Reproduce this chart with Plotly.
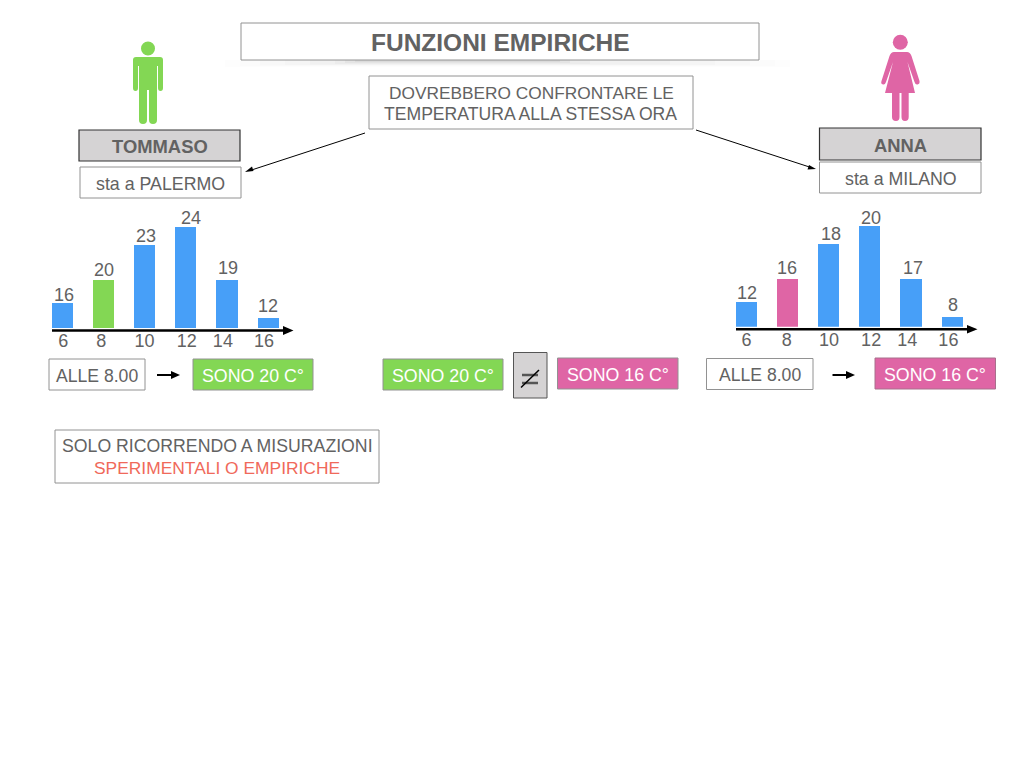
import plotly.graph_objects as go

hours = [6, 8, 10, 12, 14, 16]
hour_labels = ["6", "8", "10", "12", "14", "16"]
left_temps = [16, 20, 23, 24, 19, 12]
right_temps = [12, 16, 18, 20, 17, 8]
# drawn bar heights (not proportional to the printed labels)
left_heights = [25, 48.5, 83, 101.5, 48.5, 10]
right_heights = [25, 48.5, 83, 101, 48, 10]

BLUE = "#479FF8"
GREEN = "#83D754"
PINK = "#DF65A5"
TXT = "#626262"
GREY = "#D5D3D4"
EDGE = "#929292"
FONT = "Liberation Sans"

fig = go.Figure()

left_colors = [BLUE, GREEN, BLUE, BLUE, BLUE, BLUE]
right_colors = [BLUE, PINK, BLUE, BLUE, BLUE, BLUE]
fig.add_bar(x=hours, y=left_heights, width=1.02, marker=dict(color=left_colors, line=dict(width=0)),
            xaxis="x", yaxis="y", showlegend=False, hoverinfo="skip")
fig.add_bar(x=hours, y=right_heights, width=1.02, marker=dict(color=right_colors, line=dict(width=0)),
            xaxis="x2", yaxis="y2", showlegend=False, hoverinfo="skip")
# invisible trace that activates the overlay axes in page units
fig.add_scatter(x=[0, 1024], y=[0, 768], mode="markers", marker=dict(opacity=0, size=1),
                xaxis="x3", yaxis="y3", showlegend=False, hoverinfo="skip")


def tick_axis(domain, nudges):
    return dict(domain=domain, range=[4, 18], tickvals=[h + n for h, n in zip(hours, nudges)],
                ticktext=hour_labels, showgrid=False, zeroline=False, showline=False,
                ticks="", ticklabelstandoff=0,
                tickfont=dict(family=FONT, size=18, color=TXT))


def val_axis(bottom):
    return dict(domain=[1 - bottom / 768, 1 - (bottom - 120) / 768], range=[0, 120], visible=False)


annotations, shapes = [], []


def box(x0, y0, x1, y1, fill="#FFFFFF", line=EDGE, width=1):
    shapes.append(dict(type="rect", xref="x3", yref="y3", x0=x0, y0=y0, x1=x1, y1=y1,
                       fillcolor=fill, line=dict(color=line, width=width), layer="below"))


def label(x, y, text, color=TXT, size=17.8, bold=False):
    annotations.append(dict(xref="x3", yref="y3", x=x, y=y, text=f"<b>{text}</b>" if bold else text,
                            showarrow=False, xanchor="center", yanchor="middle",
                            font=dict(family=FONT, size=size, color=color)))


def path(d, color):
    shapes.append(dict(type="path", xref="x3", yref="y3", path=d, fillcolor=color,
                       line=dict(width=0), layer="below"))


def line(x0, y0, x1, y1, color="#000000", width=1.0):
    shapes.append(dict(type="line", xref="x3", yref="y3", x0=x0, y0=y0, x1=x1, y1=y1,
                       line=dict(color=color, width=width), layer="below"))


def circle(cx, cy, r, color):
    shapes.append(dict(type="circle", xref="x3", yref="y3", x0=cx - r, x1=cx + r, y0=cy - r, y1=cy + r,
                       fillcolor=color, line=dict(width=0), layer="below"))


# title shadow: soft, darker under the middle of the title box
for a, b, bottom, op in [(225, 790, 67, 0.006), (240, 775, 66, 0.008), (260, 750, 65.5, 0.01),
                         (285, 715, 65, 0.012), (310, 670, 64.5, 0.015), (335, 590, 64, 0.02),
                         (345, 570, 63, 0.03), (355, 560, 62, 0.04)]:
    shapes.append(dict(type="rect", xref="x3", yref="y3", x0=a, x1=b, y0=60, y1=bottom,
                       fillcolor=f"rgba(0,0,0,{op})", line=dict(width=0), layer="below"))

box(241, 23, 759, 60)
label(500.5, 42, "FUNZIONI EMPIRICHE", size=24.5, bold=True)
box(369, 76, 693, 129)
label(531, 92.5, "DOVREBBERO CONFRONTARE LE", size=17.3)
label(530.5, 114, "TEMPERATURA ALLA STESSA ORA", size=17.6)

# man
circle(148, 48.5, 7, GREEN)
path("M136 57 L160 57 Q163 57 163 60 L163 88 Q163 91 160.5 91 Q158 91 158 88 L158 66 L157 66 "
     "L157 120 Q157 124 153 124 Q149 124 149 120 L149 90 L147 90 L147 120 Q147 124 143 124 "
     "Q139 124 139 120 L139 66 L138 66 L138 88 Q138 91 135.5 91 Q133 91 133 88 L133 60 Q133 57 136 57 Z", GREEN)
# woman
circle(900.3, 42.3, 7.5, PINK)
path("M894 52 L907 52 Q910 52 911.5 56 L919.5 81 Q920 84 917.5 84.5 Q915.5 85 914.5 82 L907.5 62 "
     "L915 93 L908.7 93 L908.7 117 Q908.7 121 905 121 Q901.5 121 901.5 117 L901.5 93 L899.5 93 "
     "L899.5 117 Q899.5 121 896 121 Q892 121 892 117 L892 93 L885 93 L893 62 L886 82 Q885 85 883 84.5 "
     "Q880.5 84 881.5 81 L889.5 56 Q891 52 894 52 Z", PINK)

box(79, 130, 240, 161, fill=GREY, line="#333333", width=1.2)
label(159.5, 146, "TOMMASO", size=18.4, bold=True)
box(80, 167, 241, 198)
label(160.5, 183.5, "sta a PALERMO")
box(819.5, 128, 981, 160, fill=GREY, line="#333333", width=1.2)
label(900.5, 145, "ANNA", size=18.4, bold=True)
box(819.5, 162, 981, 193)
label(900.5, 178.5, "sta a MILANO")

# long arrows
line(365, 133, 250, 170.5)
path("M245 172 L252 166.5 L253.5 171 Z", "#000000")
line(696, 130, 811, 167.5)
path("M816 169 L807.5 169.5 L809 165 Z", "#000000")

# chart axis arrows
line(52, 330.5, 285, 330.5, width=2.5)
path("M283 326 L293.5 330.5 L283 335 Z", "#000000")
line(736, 329.3, 969, 329.3, width=2.5)
path("M967 325 L977.5 329.3 L967 333.5 Z", "#000000")

# row of statements
box(49, 359, 145, 390)
label(97, 375.5, "ALLE 8.00", size=17.6)
line(157, 375, 173, 375, width=2)
path("M171 371 L180 375 L171 379 Z", "#000000")
box(193, 359, 313, 390, fill=GREEN)
label(253, 375.5, "SONO 20 C°", color="#FFFFFF")
box(383, 359, 503, 390, fill=GREEN)
label(443, 375.5, "SONO 20 C°", color="#FFFFFF")
box(513.5, 352.5, 547, 398, fill=GREY, line="#555555")
line(522, 375, 538, 375, color="#555555", width=2.5)
line(522, 383, 538, 383, color="#555555", width=2.5)
line(521, 387.5, 539, 370, width=1.5)
box(557.5, 358, 678, 389, fill=PINK)
label(617.5, 374.5, "SONO 16 C°", color="#FFFFFF")
box(706.5, 358.5, 813, 389.5)
label(760, 374.5, "ALLE 8.00", size=17.6)
line(832.5, 375, 848, 375, width=2)
path("M846 371 L855 375 L846 379 Z", "#000000")
box(875, 358, 995.5, 389, fill=PINK, line="#A8708C")
label(935, 374.5, "SONO 16 C°", color="#FFFFFF")

box(55, 430, 379, 483)
label(217, 445.5, "SOLO RICORRENDO A MISURAZIONI", size=17.7)
label(217, 468, "SPERIMENTALI O EMPIRICHE", color="#F0695A", size=17.4)

# value labels
for xr, yr, hs, ts, xshifts, yshifts in [
    ("x", "y", left_heights, left_temps, [1.5, 0.5, 1.5, 5, 1, -0.5], [-4, -3, -3, -4, -1, 0]),
    ("x2", "y2", right_heights, right_temps, [0, -0.5, 2, 1, 2, 0], [-3.5, -2, -2, -4, -1, 0]),
]:
    for h, v, t, sx, sy in zip(hours, hs, ts, xshifts, yshifts):
        annotations.append(dict(xref=xr, yref=yr, x=h, y=v, text=str(t), showarrow=False, xshift=sx,
                                yanchor="bottom", yshift=sy, font=dict(family=FONT, size=18, color=TXT)))

fig.update_layout(
    width=1024, height=768, margin=dict(l=0, r=0, t=0, b=0, pad=0), autosize=False,
    paper_bgcolor="#FFFFFF", plot_bgcolor="rgba(0,0,0,0)", bargap=0, barmode="overlay",
    xaxis=tick_axis([21 / 1024, 309.4 / 1024], [0.05, -0.1, 0, 0.05, -0.2, -0.2]),
    yaxis=val_axis(328),
    xaxis2=dict(tick_axis([705.3 / 1024, 993.7 / 1024], [0, -0.05, 0, 0.05, -0.2, -0.2]), anchor="y2"),
    yaxis2=dict(val_axis(326.7), anchor="x2"),
    xaxis3=dict(domain=[0, 1], range=[0, 1024], visible=False, anchor="y3"),
    yaxis3=dict(domain=[0, 1], range=[768, 0], visible=False, anchor="x3"),
    shapes=shapes, annotations=annotations,
)

fig.write_html("out.html", config={"displayModeBar": False},
               post_script="document.body.style.margin='0';document.body.style.overflow='hidden';")
